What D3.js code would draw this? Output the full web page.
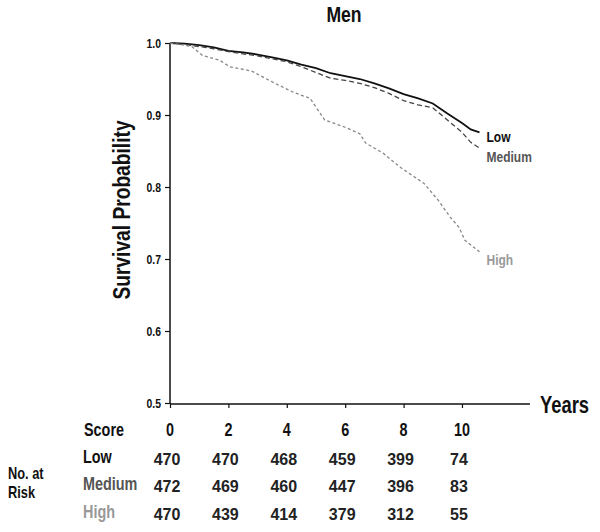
<!DOCTYPE html>
<html><head><meta charset="utf-8">
<script src="https://cdn.jsdelivr.net/npm/d3@7"></script>
<style>
body{margin:0;background:#fff;}
text{font-family:"Liberation Sans",Arial,sans-serif;}
</style></head>
<body><svg id="c" width="600" height="532"></svg>
<script>
const groups = ["Low","Medium","High"];
const lowT   = [0,0.5,1,1.5,2,2.5,3,3.5,4,4.5,5,5.5,6,6.5,7,7.5,8,8.5,9,9.5,10,10.3,10.6];
const lowS   = [1.0,0.999,0.997,0.994,0.989,0.987,0.984,0.980,0.976,0.970,0.965,0.958,0.954,0.950,0.944,0.937,0.929,0.923,0.916,0.902,0.889,0.880,0.876];
const medT   = [0,0.5,1,1.5,2,2.5,3,3.5,4,4.5,5,5.5,6,6.5,7,7.5,8,8.5,9,9.5,10,10.3,10.6];
const medS   = [1.0,0.998,0.995,0.992,0.988,0.985,0.982,0.978,0.974,0.967,0.959,0.951,0.948,0.944,0.938,0.930,0.920,0.914,0.910,0.893,0.876,0.862,0.854];
const highT  = [0,0.5,0.75,1.1,1.7,2.05,2.8,3.4,4.2,4.8,5.3,6.0,6.5,6.7,7.3,7.9,8.7,9.2,9.6,9.9,10.1,10.6];
const highS  = [1.0,0.997,0.995,0.983,0.976,0.967,0.961,0.948,0.932,0.923,0.893,0.883,0.874,0.861,0.847,0.827,0.805,0.781,0.758,0.744,0.726,0.710];
const yTicks = [0.5,0.6,0.7,0.8,0.9,1.0];
const xTicks = [0,2,4,6,8,10];
const riskLow    = [470,470,468,459,399,74];
const riskMedium = [472,469,460,447,396,83];
const riskHigh   = [470,439,414,379,312,55];

const svg = d3.select("#c");
const x = d3.scaleLinear().domain([0,12.33]).range([170,530]);
const y = d3.scaleLinear().domain([0.5,1.0]).range([403,43]);
const SQ = 0.8; // condensed face emulation

function ctext(px,py,str,size,opt){
  opt = opt||{};
  const rot = opt.rotate?` rotate(${opt.rotate})`:"";
  return svg.append("text")
    .attr("transform",`translate(${px},${py})${rot} scale(${SQ},1)`)
    .attr("text-anchor",opt.anchor||"start")
    .attr("font-size",size).attr("font-weight","bold")
    .attr("fill",opt.fill||"#111").text(str);
}

const styles = {
  Low:{stroke:"#111",dash:null,width:1.8,label:"#111"},
  Medium:{stroke:"#444",dash:"5,3",width:1.3,label:"#555"},
  High:{stroke:"#888",dash:"3,2.5",width:1.3,label:"#999"}
};
const series = [
  {name:"Low",t:lowT,s:lowS},
  {name:"Medium",t:medT,s:medS},
  {name:"High",t:highT,s:highS}
];

ctext(344,22,"Men",22,{anchor:"middle"});

// y axis
const ya = svg.append("g").attr("transform","translate(170,0)")
  .call(d3.axisLeft(y).tickValues(yTicks).tickFormat("").tickSize(5));
ya.select(".domain").attr("stroke","#111").attr("stroke-width",1.5).attr("d","M0,43V404");
ya.selectAll(".tick line").attr("stroke","#111").attr("stroke-width",1.2);
yTicks.forEach(v=>ctext(161,y(v)+4.5,d3.format(".1f")(v),13,{anchor:"end"}));

// x axis
const xa = svg.append("g").attr("transform","translate(0,404)")
  .call(d3.axisBottom(x).tickValues(xTicks).tickSize(4).tickFormat(""));
xa.select(".domain").attr("stroke","#111").attr("stroke-width",1.5).attr("d","M170,0H530");
xa.selectAll(".tick line").attr("stroke","#111").attr("stroke-width",1.2);

ctext(540,413,"Years",23);
ctext(130,210,"Survival Probability",24,{anchor:"middle",rotate:-90});

// curves
const line = d3.line().x(d=>x(d[0])).y(d=>y(d[1]));
series.forEach(sr=>{
  const pts = sr.t.map((t,i)=>[t,sr.s[i]]);
  const st = styles[sr.name];
  svg.append("path").attr("d",line(pts)).attr("fill","none")
    .attr("stroke",st.stroke).attr("stroke-width",st.width)
    .attr("stroke-dasharray",st.dash);
  const last = pts[pts.length-1];
  const dy = sr.name==="Low"?10:(sr.name==="Medium"?14:13);
  ctext(x(last[0])+7,y(last[1])+dy,sr.name,15,{fill:st.label});
});

// risk table
ctext(84,436,"Score",18);
xTicks.forEach(v=>ctext(x(v),436,v,18,{anchor:"middle"}));
ctext(8,479,"No. at",16);
ctext(8,498,"Risk",16);
const rows = [
  {name:"Low",vals:riskLow,yb:465},
  {name:"Medium",vals:riskMedium,yb:492},
  {name:"High",vals:riskHigh,yb:520}
];
rows.forEach(r=>{
  ctext(83,r.yb-2,r.name,18,{fill:styles[r.name].label});
  r.vals.forEach((v,i)=>{
    svg.append("text").attr("x",x(xTicks[i])-3).attr("y",r.yb).attr("text-anchor","middle")
      .attr("font-size",16).attr("font-weight","bold").attr("fill","#222").text(v);
  });
});
</script></body></html>
